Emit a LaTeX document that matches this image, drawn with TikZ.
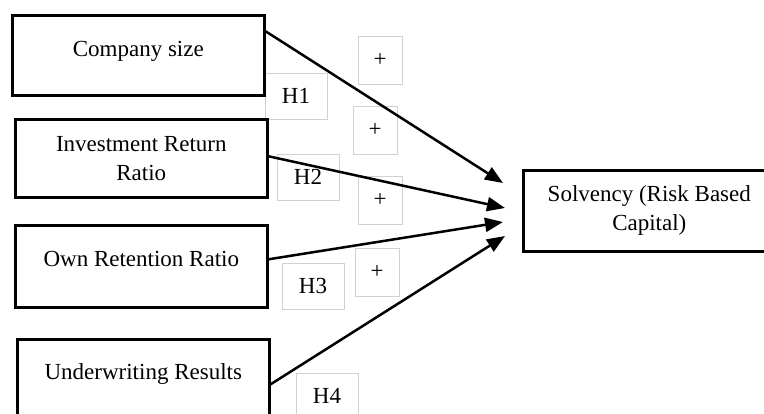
\documentclass[tikz,border=0pt]{standalone}
\usepackage{fontspec}
\setmainfont{Liberation Serif}
\usetikzlibrary{arrows.meta}
\begin{document}
\begin{tikzpicture}[x=1pt,y=-1pt,font=\fontsize{23}{29}\selectfont,
  var/.style={draw,line width=2.6pt,minimum width=252pt,inner sep=0pt,align=center,anchor=north west},
  tag/.style={draw=black!18,line width=0.8pt,minimum width=62pt,minimum height=46pt,inner sep=0pt},
  sign/.style={tag,minimum width=44pt,minimum height=48pt},
  link/.style={line width=2.5pt,-{Triangle[length=18pt,width=14pt]}}]
\useasboundingbox (0,0) rectangle (764,414);

\node[tag] (h1) at (296,96) {H1};
\node[tag] (h2) at (308,177) {H2};
\node[tag] (h3) at (313,286) {H3};
\node[tag] (h4) at (327,396) {H4};
\node[sign] (p1) at (380,60) {+};
\node[sign] (p2) at (375,130) {+};
\node[sign] (p3) at (380,200) {+};
\node[sign] (p4) at (377,272) {+};

\node[var,text height=41pt,text depth=39pt] (cs) at (11,14) {Company size};
\node[var,minimum height=78pt] (irr) at (14,118) {Investment Return\\Ratio};
\node[var,text height=41pt,text depth=41pt] (orr) at (14,224) {Own Retention Ratio};
\node[var,text height=40pt,text depth=50pt] (uwr) at (16,338) {Underwriting Results};
\node[var,minimum height=81pt] (rbc) at (522,169) {Solvency (Risk Based\\Capital)};

\coordinate (t1) at (503,183);
\coordinate (t2) at (505,208);
\coordinate (t3) at (503,222);
\coordinate (t4) at (505,236);

\draw[link] ([yshift=24pt]cs.east) -- (t1);
\draw[link] ([yshift=2pt]irr.east) -- (t2);
\draw[link] ([yshift=7pt]orr.east) -- (t3);
\draw[link] (uwr.east) -- (t4);
\end{tikzpicture}
\end{document}
